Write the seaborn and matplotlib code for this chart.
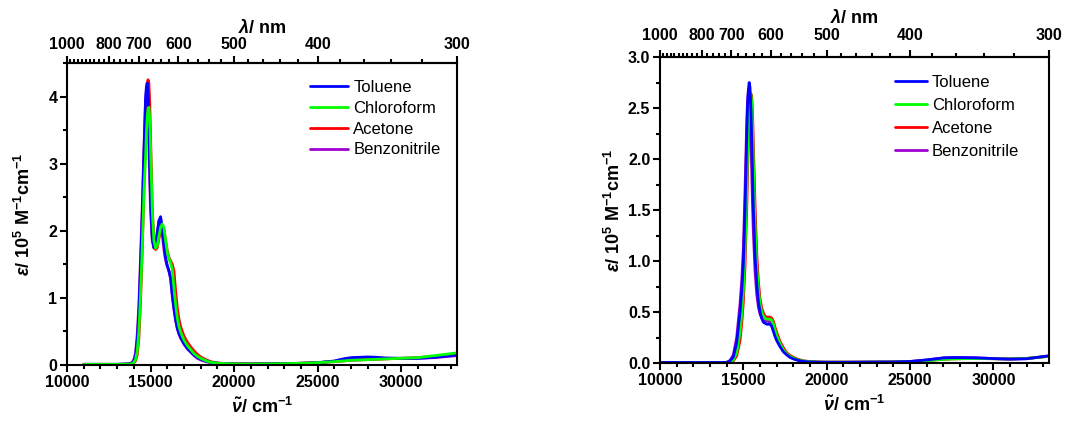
import numpy as np
import pandas as pd
import matplotlib
matplotlib.use("Agg")
import matplotlib.pyplot as plt
from matplotlib.ticker import FixedLocator, MultipleLocator, FormatStrFormatter
import seaborn as sns

# ---------------- data ----------------
solvents = ["Toluene", "Chloroform", "Acetone", "Benzonitrile"]
colors = {"Toluene": "#0000FF", "Chloroform": "#00FF00", "Acetone": "#FF0000", "Benzonitrile": "#A000D0"}

# left panel: wavenumber grid (cm^-1) and epsilon (10^5 M^-1 cm^-1)
nu_left = [11000, 12000, 13000, 13500, 13800, 13900, 14000, 14100, 14200, 14300, 14400, 14500,
           14600, 14700, 14750, 14800, 14850, 14900, 14950, 15000, 15100, 15200, 15300, 15400,
           15500, 15600, 15700, 15800, 15900, 16000, 16100, 16200, 16300, 16400, 16500, 16600,
           16700, 16800, 17000, 17200, 17400, 17600, 17800, 18000, 18300, 18600, 19000, 19500,
           20000, 21000, 22000, 23000, 24000, 25000, 26000, 26500, 27000, 27500, 28000, 28500,
           29000, 30000, 31000, 32000, 33333]
left_toluene = [0.01, 0.01, 0.01, 0.015, 0.02, 0.03, 0.06, 0.12, 0.35, 0.75, 1.45, 2.2,
                3.1, 3.95, 4.15, 4.2, 4.05, 3.6, 3.0, 2.45, 1.9, 1.75, 1.78, 1.95,
                2.15, 2.21, 2.05, 1.8, 1.6, 1.48, 1.4, 1.3, 1.05, 0.85, 0.68, 0.55,
                0.47, 0.41, 0.32, 0.25, 0.2, 0.15, 0.115, 0.09, 0.06, 0.04, 0.027, 0.02,
                0.015, 0.015, 0.018, 0.02, 0.025, 0.035, 0.06, 0.09, 0.11, 0.115, 0.12, 0.115,
                0.105, 0.1, 0.1, 0.115, 0.15]
left_chloroform = [0.01, 0.01, 0.01, 0.012, 0.015, 0.02, 0.04, 0.08, 0.2, 0.5, 1.05, 1.75,
                   2.55, 3.1, 3.45, 3.7, 3.82, 3.84, 3.65, 3.25, 2.3, 1.85, 1.74, 1.78,
                   1.92, 2.05, 2.1, 2.05, 1.85, 1.68, 1.58, 1.52, 1.42, 1.15, 0.9, 0.7,
                   0.57, 0.49, 0.37, 0.29, 0.23, 0.17, 0.13, 0.1, 0.065, 0.04, 0.028, 0.02,
                   0.016, 0.015, 0.017, 0.02, 0.025, 0.035, 0.05, 0.06, 0.07, 0.075, 0.08, 0.085,
                   0.09, 0.1, 0.11, 0.14, 0.18]
left_acetone = [0.01, 0.01, 0.01, 0.01, 0.012, 0.015, 0.03, 0.06, 0.15, 0.4, 0.95, 1.7,
                2.6, 3.5, 3.95, 4.2, 4.25, 4.2, 3.9, 3.4, 2.35, 1.85, 1.72, 1.75,
                1.88, 2.0, 2.05, 2.02, 1.85, 1.7, 1.6, 1.55, 1.5, 1.4, 1.1, 0.85,
                0.68, 0.57, 0.43, 0.34, 0.27, 0.21, 0.16, 0.12, 0.08, 0.05, 0.03, 0.022,
                0.018, 0.018, 0.02, 0.022, 0.027, 0.035, 0.05, 0.06, 0.07, 0.075, 0.08, 0.085,
                0.09, 0.1, 0.11, 0.13, 0.17]
left_benzonitrile = [0.01, 0.01, 0.01, 0.015, 0.025, 0.04, 0.08, 0.18, 0.45, 0.9, 1.6, 2.35,
                     3.2, 3.95, 4.1, 4.05, 3.8, 3.3, 2.75, 2.3, 1.85, 1.74, 1.8, 1.98,
                     2.15, 2.12, 1.95, 1.72, 1.56, 1.47, 1.4, 1.28, 1.02, 0.82, 0.66, 0.54,
                     0.46, 0.4, 0.31, 0.24, 0.19, 0.14, 0.1, 0.075, 0.05, 0.035, 0.025, 0.02,
                     0.015, 0.015, 0.018, 0.02, 0.025, 0.035, 0.055, 0.08, 0.1, 0.11, 0.11, 0.108,
                     0.1, 0.095, 0.1, 0.11, 0.14]

# right panel
nu_right = [10000, 11000, 12000, 13000, 13500, 14000, 14200, 14400, 14600, 14800, 14900, 15000,
            15100, 15200, 15250, 15300, 15350, 15400, 15450, 15500, 15550, 15600, 15700, 15800,
            15900, 16000, 16100, 16200, 16300, 16400, 16500, 16600, 16700, 16800, 16900, 17000,
            17200, 17400, 17600, 17800, 18000, 18300, 18600, 19000, 19500, 20000, 21000, 22000,
            23000, 24000, 25000, 26000, 26500, 27000, 27500, 28000, 28500, 29000, 29500, 30000,
            31000, 32000, 33333]
right_toluene = [0.005, 0.005, 0.005, 0.005, 0.005, 0.006, 0.02, 0.06, 0.2, 0.5, 0.7, 0.98,
                 1.5, 2.2, 2.5, 2.68, 2.75, 2.7, 2.5, 2.2, 1.85, 1.5, 1.05, 0.78,
                 0.6, 0.5, 0.44, 0.4, 0.39, 0.38, 0.38, 0.38, 0.36, 0.31, 0.26, 0.22,
                 0.16, 0.11, 0.08, 0.055, 0.04, 0.025, 0.015, 0.01, 0.008, 0.007, 0.007, 0.008,
                 0.009, 0.01, 0.015, 0.03, 0.04, 0.05, 0.053, 0.053, 0.052, 0.05, 0.047, 0.043,
                 0.038, 0.042, 0.07]
right_chloroform = [0.004, 0.004, 0.004, 0.004, 0.004, 0.005, 0.01, 0.03, 0.1, 0.3, 0.48, 0.72,
                    1.1, 1.7, 2.05, 2.35, 2.55, 2.63, 2.64, 2.55, 2.3, 1.95, 1.35, 0.95,
                    0.72, 0.58, 0.5, 0.46, 0.44, 0.43, 0.43, 0.43, 0.42, 0.38, 0.32, 0.27,
                    0.19, 0.13, 0.09, 0.065, 0.048, 0.03, 0.02, 0.012, 0.009, 0.008, 0.008, 0.008,
                    0.009, 0.01, 0.013, 0.022, 0.03, 0.036, 0.04, 0.042, 0.043, 0.043, 0.043, 0.042,
                    0.04, 0.045, 0.065]
right_acetone = [0.004, 0.004, 0.004, 0.004, 0.004, 0.004, 0.008, 0.02, 0.07, 0.22, 0.38, 0.6,
                 0.95, 1.5, 1.85, 2.2, 2.45, 2.6, 2.64, 2.62, 2.45, 2.15, 1.55, 1.08,
                 0.8, 0.63, 0.54, 0.49, 0.46, 0.45, 0.45, 0.45, 0.44, 0.41, 0.35, 0.3,
                 0.21, 0.15, 0.1, 0.075, 0.055, 0.035, 0.022, 0.014, 0.01, 0.009, 0.009, 0.009,
                 0.01, 0.011, 0.014, 0.022, 0.03, 0.036, 0.04, 0.042, 0.043, 0.043, 0.043, 0.042,
                 0.04, 0.045, 0.065]
right_benzonitrile = [0.005, 0.005, 0.005, 0.005, 0.005, 0.006, 0.025, 0.08, 0.25, 0.58, 0.8, 1.12,
                      1.7, 2.35, 2.58, 2.66, 2.62, 2.45, 2.2, 1.88, 1.55, 1.28, 0.9, 0.68,
                      0.55, 0.48, 0.44, 0.42, 0.41, 0.41, 0.41, 0.4, 0.38, 0.33, 0.28, 0.23,
                      0.17, 0.12, 0.085, 0.06, 0.043, 0.027, 0.017, 0.011, 0.008, 0.007, 0.007, 0.008,
                      0.009, 0.01, 0.015, 0.03, 0.04, 0.05, 0.053, 0.053, 0.052, 0.05, 0.047, 0.043,
                      0.038, 0.042, 0.07]

lam_major = [1000, 800, 700, 600, 500, 400, 300]
lam_minor = list(range(300, 1001, 20))

left_series = {"Toluene": left_toluene, "Chloroform": left_chloroform,
               "Acetone": left_acetone, "Benzonitrile": left_benzonitrile}
right_series = {"Toluene": right_toluene, "Chloroform": right_chloroform,
                "Acetone": right_acetone, "Benzonitrile": right_benzonitrile}

# ---------------- style ----------------
sns.set_theme(style="ticks")
plt.rcParams["font.family"] = ["Liberation Sans", "DejaVu Sans"]
plt.rcParams["mathtext.fontset"] = "custom"
plt.rcParams["mathtext.rm"] = "Liberation Sans:bold"
plt.rcParams["mathtext.bf"] = "Liberation Sans:bold"
plt.rcParams["mathtext.it"] = "Liberation Sans:italic:bold"
plt.rcParams["axes.linewidth"] = 1.5
for key in ["text.color", "axes.labelcolor", "xtick.color", "ytick.color",
            "xtick.labelcolor", "ytick.labelcolor", "axes.edgecolor"]:
    plt.rcParams[key] = "black"

TICK_FS = 11.5
LAB_FS = 13
LEG_FS = 12

fig = plt.figure(figsize=(10.91, 4.21), dpi=100)
axL = fig.add_axes([67 / 1091, 1 - 365 / 421, 390 / 1091, 302 / 421])
axR = fig.add_axes([660 / 1091, 1 - 363 / 421, 389 / 1091, 306 / 421])


def inv(x):
    x = np.asarray(x, dtype=float)
    with np.errstate(divide="ignore", invalid="ignore"):
        return 1e7 / x


def draw(ax, nu, series, order):
    frames = []
    for s in solvents:
        frames.append(pd.DataFrame({"nu": nu, "eps": series[s], "solvent": s}))
    df = pd.concat(frames, ignore_index=True)
    handles = {}
    for s in order:
        sub = df[df["solvent"] == s]
        sns.lineplot(data=sub, x="nu", y="eps", color=colors[s], lw=2.0, ax=ax,
                     label=s, sort=False, estimator=None)
    h, l = ax.get_legend_handles_labels()
    for hh, ll in zip(h, l):
        handles[ll] = hh
    return [handles[s] for s in solvents]


def style_axes(ax, ymax, ymajor, yminor, yfmt, ylabpad, toppad, toplabpad):
    ax.set_xlim(10000, 1e7 / 300)
    ax.set_ylim(0, ymax)
    ax.xaxis.set_major_locator(MultipleLocator(5000))
    ax.xaxis.set_minor_locator(MultipleLocator(1000))
    ax.yaxis.set_major_locator(MultipleLocator(ymajor))
    ax.yaxis.set_minor_locator(MultipleLocator(yminor))
    ax.yaxis.set_major_formatter(FormatStrFormatter(yfmt))
    ax.tick_params(which="both", direction="out", top=False, right=False, width=1.5,
                   labelsize=TICK_FS, pad=2, colors="black")
    ax.tick_params(which="major", length=5)
    ax.tick_params(which="minor", length=3)
    for lab in ax.get_xticklabels() + ax.get_yticklabels():
        lab.set_fontweight("bold")
    for sp in ax.spines.values():
        sp.set_visible(True)
        sp.set_linewidth(1.5)
        sp.set_color("black")
    ax.set_xlabel(r"$\mathit{\tilde{\nu}}$/ cm$^{-1}$", fontsize=LAB_FS, fontweight="bold", labelpad=5)
    ax.set_ylabel(r"$\mathit{\varepsilon}$/ 10$^{5}$ M$^{-1}$cm$^{-1}$", fontsize=LAB_FS,
                  fontweight="bold", labelpad=ylabpad)
    sec = ax.secondary_xaxis("top", functions=(inv, inv))
    sec.set_xticks(lam_major)
    sec.set_xticklabels([str(v) for v in lam_major], fontweight="bold", fontsize=TICK_FS)
    sec.xaxis.set_minor_locator(FixedLocator([v for v in lam_minor if v not in lam_major]))
    sec.tick_params(which="both", direction="out", width=1.5, pad=toppad, colors="black")
    sec.tick_params(which="major", length=5)
    sec.tick_params(which="minor", length=3)
    sec.spines["top"].set_linewidth(1.5)
    sec.set_xlabel(r"$\mathit{\lambda}$/ nm", fontsize=LAB_FS, fontweight="bold", labelpad=toplabpad)
    ax.grid(False)


hL = draw(axL, nu_left, left_series, ["Benzonitrile", "Acetone", "Toluene", "Chloroform"])
hR = draw(axR, nu_right, right_series, ["Benzonitrile", "Acetone", "Chloroform", "Toluene"])

style_axes(axL, 4.5, 1, 0.5, "%d", ylabpad=10, toppad=3, toplabpad=3)
style_axes(axR, 3.0, 0.5, 0.25, "%.1f", ylabpad=3, toppad=5, toplabpad=3.5)

axL.legend(hL, solvents, loc="upper left", bbox_to_anchor=((310 - 67) / 390, 1 - (80 - 63) / 302),
           frameon=False, fontsize=LEG_FS, handlelength=2.3, handletextpad=0.3,
           labelspacing=0.35, borderpad=0, borderaxespad=0)
axR.legend(hR, solvents, loc="upper left", bbox_to_anchor=((895 - 660) / 389, 1 - (75 - 57) / 306),
           frameon=False, fontsize=LEG_FS, handlelength=1.9, handletextpad=0.3,
           labelspacing=0.47, borderpad=0, borderaxespad=0)

fig.savefig("out.png", dpi=100)
